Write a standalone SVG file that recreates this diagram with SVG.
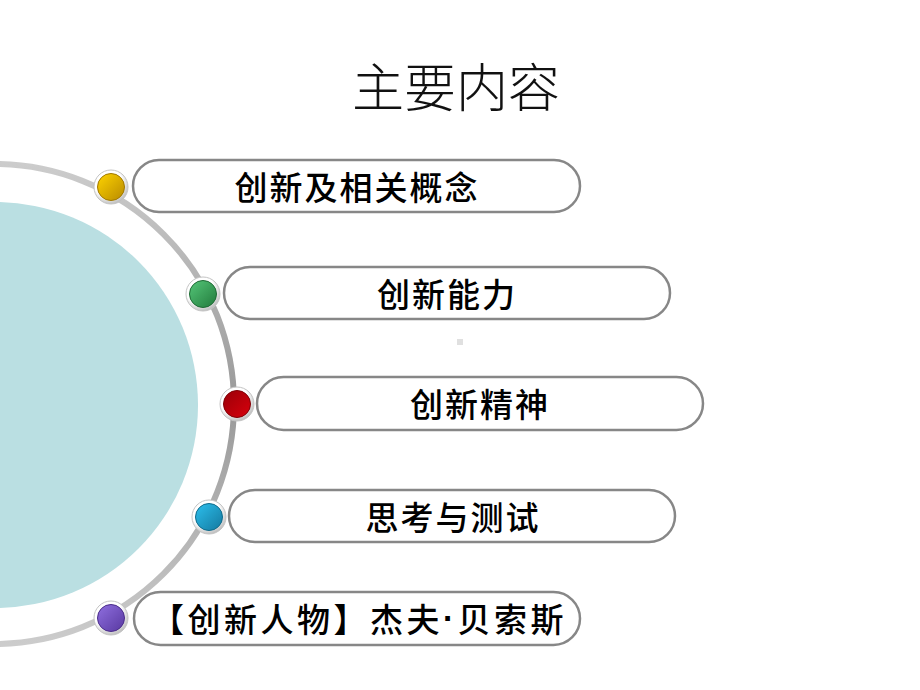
<svg xmlns="http://www.w3.org/2000/svg" width="920" height="690" viewBox="0 0 920 690">
  <defs>
    <linearGradient id="arcGrad" x1="0" y1="164" x2="0" y2="644" gradientUnits="userSpaceOnUse">
      <stop offset="0" stop-color="#cccccc"/>
      <stop offset="0.5" stop-color="#999999"/>
      <stop offset="1" stop-color="#cccccc"/>
    </linearGradient>
    <radialGradient id="ring" cx="0.4" cy="0.35" r="0.7">
      <stop offset="0.6" stop-color="#ffffff"/>
      <stop offset="1" stop-color="#b5b5b5"/>
    </radialGradient>
    <linearGradient id="gYellow" x1="0" y1="0" x2="1" y2="1">
      <stop offset="0" stop-color="#ffd400"/>
      <stop offset="1" stop-color="#b88a00"/>
    </linearGradient>
    <linearGradient id="gGreen" x1="0" y1="0" x2="1" y2="1">
      <stop offset="0" stop-color="#55c779"/>
      <stop offset="1" stop-color="#227a3c"/>
    </linearGradient>
    <linearGradient id="gRed" x1="0" y1="0" x2="1" y2="1">
      <stop offset="0" stop-color="#9a0008"/>
      <stop offset="1" stop-color="#d8000c"/>
    </linearGradient>
    <linearGradient id="gBlue" x1="0" y1="0" x2="1" y2="1">
      <stop offset="0" stop-color="#2cc0ee"/>
      <stop offset="1" stop-color="#14789e"/>
    </linearGradient>
    <linearGradient id="gPurple" x1="0" y1="0" x2="1" y2="1">
      <stop offset="0" stop-color="#9070e0"/>
      <stop offset="1" stop-color="#5838a0"/>
    </linearGradient>
  </defs>
  <style>
    .pill { fill: #ffffff; stroke: #878787; stroke-width: 2.5; }
    .ring { fill: url(#ring); stroke: #c4c4c4; stroke-width: 1; }
    .dot { stroke-width: 1; }
    .label { font-family: "Noto Sans CJK SC", "Noto Sans", sans-serif; font-weight: 500; font-size: 33px; letter-spacing: 2px; fill: #000000; text-anchor: middle; dominant-baseline: central; }
    .wide { letter-spacing: 3.5px; }
    .title { font-family: "Noto Sans CJK SC", "Noto Sans", sans-serif; font-weight: 300; font-size: 52px; fill: #111111; text-anchor: middle; dominant-baseline: central; }
    .narrow { font-family: "Liberation Sans", sans-serif; font-weight: 700; }
  </style>

  <rect x="0" y="0" width="920" height="690" fill="#ffffff"/>

  <!-- big teal circle -->
  <circle id="bigCircle" cx="-5" cy="405" r="203" fill="#badfe2"/>

  <!-- small grey marker -->
  <rect x="457" y="339" width="6" height="6" fill="#e0e0e0"/>

  <g id="title">
    <text class="title" x="456" y="84">主要内容</text>
  </g>

  <g id="connectors">
    <circle cx="-6" cy="404" r="240" fill="none" stroke="url(#arcGrad)" stroke-width="6"/>
  </g>

  <g id="node1">
    <rect class="pill" x="133" y="160" width="447" height="52" rx="26"/>
    <circle class="ring" cx="111" cy="187" r="17"/>
    <circle class="dot" cx="111" cy="187" r="13.5" fill="url(#gYellow)" stroke="#a07800"/>
    <text class="label" x="357" y="186">创新及相关概念</text>
  </g>

  <g id="node2">
    <rect class="pill" x="224" y="267" width="446" height="52" rx="26"/>
    <circle class="ring" cx="203" cy="294" r="17"/>
    <circle class="dot" cx="203" cy="294" r="13.5" fill="url(#gGreen)" stroke="#1e6a34"/>
    <text class="label" x="447" y="293">创新能力</text>
  </g>

  <g id="node3">
    <rect class="pill" x="257" y="377" width="446" height="53" rx="26.5"/>
    <circle class="ring" cx="237" cy="404" r="17"/>
    <circle class="dot" cx="237" cy="404" r="13.5" fill="url(#gRed)" stroke="#800006"/>
    <text class="label" x="480" y="403">创新精神</text>
  </g>

  <g id="node4">
    <rect class="pill" x="229" y="490" width="446" height="52" rx="26"/>
    <circle class="ring" cx="209" cy="517" r="17"/>
    <circle class="dot" cx="209" cy="517" r="13.5" fill="url(#gBlue)" stroke="#106a8a"/>
    <text class="label" x="453" y="516">思考与测试</text>
  </g>

  <g id="node5">
    <rect class="pill" x="134" y="592" width="446" height="53" rx="26.5"/>
    <circle class="ring" cx="111" cy="618" r="17"/>
    <circle class="dot" cx="111" cy="618" r="13.5" fill="url(#gPurple)" stroke="#4a2c8a"/>
    <text class="label wide" x="359" y="618">【创新人物】杰夫<tspan class="narrow">·</tspan>贝索斯</text>
  </g>
</svg>
